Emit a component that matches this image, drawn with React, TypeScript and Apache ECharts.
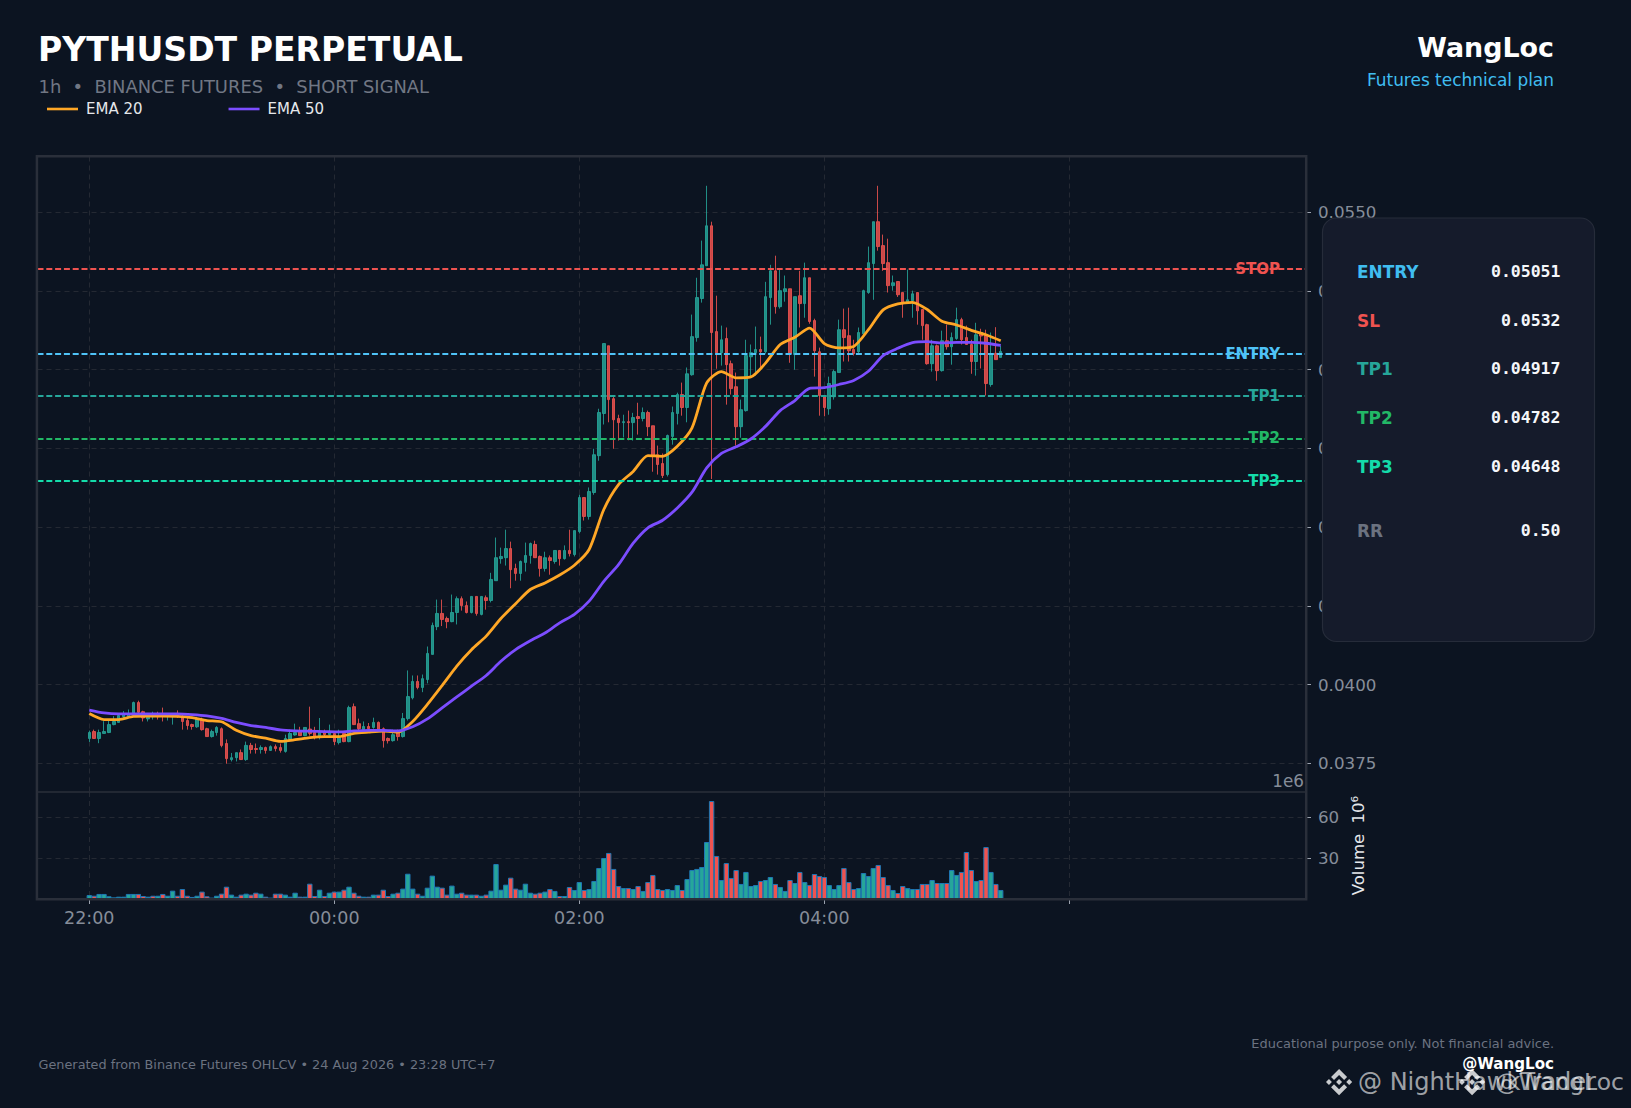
import React, { useEffect, useRef } from "react";
import * as echarts from "echarts";

// Candle values, price x 1e5 (one candle every 4.9px)
const opens = [
3829,3851,3829,3845,3848,3873,3880,3898,3898,3902,
3943,3914,3891,3898,3905,3907,3900,3898,3905,3898,
3886,3873,3866,3889,3860,3835,3848,3860,3813,3762,
3768,3784,3762,3807,3797,3794,3800,3791,3803,3800,
3788,3826,3840,3851,3838,3859,3848,3835,3848,3841,
3845,3816,3845,3819,3930,3876,3857,3867,3864,3880,
3860,3829,3822,3848,3835,3892,3958,4010,3991,4016,
4096,4184,4226,4210,4200,4229,4273,4251,4229,4280,
4223,4276,4267,4330,4400,4403,4432,4369,4353,4388,
4410,4445,4407,4369,4403,4391,4426,4400,4426,4413,
4486,4594,4534,4610,4727,4861,5076,4908,4845,4832,
4835,4832,4851,4845,4864,4822,4730,4702,4667,4788,
4861,4921,4880,4984,5102,5226,5330,5457,5121,5054,
5099,5019,4946,4819,4870,5041,5054,5064,5057,5229,
5314,5200,5248,5257,5048,5235,5210,5292,5156,5057,
4914,4876,4914,4991,5127,5108,5064,5057,5114,5245,
5337,5470,5394,5340,5267,5280,5245,5212,5219,5245,
5191,5143,5019,5076,4997,5092,5073,5099,5159,5102,
5080,5026,5118,5108,4953,5052,5039];
const closes = [
3848,3829,3848,3851,3873,3883,3902,3907,3905,3943,
3912,3894,3898,3905,3898,3900,3905,3902,3898,3883,
3870,3867,3891,3857,3835,3851,3864,3807,3765,3768,
3784,3762,3807,3794,3794,3800,3791,3803,3797,3791,
3829,3845,3848,3838,3864,3845,3835,3848,3841,3848,
3819,3832,3819,3927,3873,3860,3867,3860,3880,3857,
3822,3822,3841,3835,3892,3962,4010,3991,4019,4099,
4188,4226,4207,4200,4229,4273,4251,4229,4280,4226,
4280,4267,4334,4403,4407,4432,4365,4353,4391,4410,
4448,4403,4369,4403,4394,4426,4400,4426,4416,4489,
4594,4534,4613,4730,4864,5083,4905,4841,4832,4835,
4832,4848,4845,4864,4819,4727,4699,4664,4791,4864,
4921,4880,4987,5105,5229,5333,5457,5118,5054,5095,
5016,4940,4819,4873,5045,5054,5064,5057,5232,5314,
5200,5251,5257,5051,5232,5210,5292,5153,5060,4918,
4880,4956,4994,5127,5102,5060,5051,5118,5251,5340,
5470,5391,5337,5267,5276,5238,5213,5222,5241,5187,
5140,5019,5076,4997,5092,5073,5102,5159,5095,5080,
5026,5111,5107,4956,5051,5032,5058];
const lows = [
3818,3829,3814,3845,3846,3871,3880,3894,3898,3902,
3905,3883,3883,3889,3889,3883,3886,3873,3894,3857,
3857,3857,3863,3854,3835,3832,3838,3801,3749,3756,
3756,3761,3758,3781,3781,3781,3781,3790,3788,3784,
3784,3822,3838,3838,3836,3838,3826,3826,3836,3838,
3808,3810,3817,3817,3872,3854,3854,3855,3860,3857,
3800,3813,3819,3822,3832,3886,3953,3985,3976,4004,
4096,4173,4186,4179,4198,4191,4235,4226,4226,4219,
4220,4238,4261,4330,4384,4378,4306,4330,4330,4359,
4384,4403,4343,4359,4349,4384,4378,4397,4407,4407,
4480,4521,4524,4603,4711,4826,4833,4749,4775,4785,
4776,4775,4794,4836,4789,4676,4667,4656,4661,4762,
4826,4854,4833,4981,5089,5213,5330,4653,5003,5013,
4889,4921,4759,4784,4867,4979,4981,5000,5051,5143,
5178,5194,5216,5022,5000,5134,5165,5146,4978,4854,
4852,4857,4905,4991,5026,5026,5045,5051,5111,5241,
5222,5378,5314,5245,5251,5231,5165,5210,5165,5143,
5095,5016,4994,4965,4994,5064,5016,5095,5080,5080,
4987,4981,5004,4918,4946,5032,5039];
const highs = [
3854,3857,3857,3884,3889,3900,3905,3916,3921,3946,
3949,3917,3910,3914,3914,3927,3910,3910,3918,3905,
3894,3876,3898,3895,3863,3857,3868,3864,3826,3783,
3784,3794,3819,3815,3813,3807,3803,3807,3810,3813,
3841,3857,3876,3866,3864,3930,3866,3894,3857,3873,
3851,3857,3851,3933,3940,3892,3883,3878,3895,3883,
3864,3832,3857,3857,3910,4045,4029,4029,4032,4121,
4197,4270,4270,4216,4286,4280,4280,4264,4280,4280,
4280,4283,4355,4467,4435,4492,4454,4384,4394,4451,
4451,4457,4410,4422,4410,4426,4426,4442,4492,4489,
4603,4594,4626,4749,4876,5083,5076,4914,4857,4857,
4870,4863,4895,4880,4870,4822,4759,4734,4794,4883,
4927,4959,5007,5175,5292,5410,5584,5470,5235,5140,
5134,5029,4991,4905,5095,5080,5137,5105,5279,5333,
5362,5321,5299,5257,5232,5314,5340,5292,5162,5070,
4918,4978,5000,5159,5194,5197,5095,5134,5254,5391,
5470,5584,5429,5416,5299,5280,5245,5318,5251,5245,
5191,5146,5095,5080,5124,5143,5118,5197,5165,5140,
5095,5149,5130,5127,5118,5135,5076];

// Volume in millions, and its colour letter (G / R), one per candle
const volumes = [
2.9,2.4,3.7,3.7,2.0,1.2,1.7,1.7,3.7,3.7,
3.7,2.2,1.7,2.4,2.4,3.7,2.4,6.1,2.4,7.3,
2.4,1.5,2.4,5.4,2.0,1.0,2.4,3.9,9.0,3.2,
1.7,3.2,3.9,3.2,4.6,3.9,1.7,1.0,3.9,3.9,
3.2,1.7,4.6,1.7,1.7,11.2,2.2,6.8,2.2,4.6,
5.4,5.4,6.8,9.0,4.6,2.4,1.7,1.7,3.2,3.2,
6.8,2.2,3.9,4.6,7.6,18.5,7.6,3.9,2.4,8.3,
17.1,9.0,8.3,3.2,9.8,3.9,4.6,3.2,3.2,3.2,
2.4,3.2,6.1,25.6,6.8,10.5,15.6,7.6,6.8,11.2,
4.6,3.9,4.6,5.4,7.3,5.9,2.2,2.2,8.8,6.6,
12.4,6.6,7.3,13.2,22.7,30.0,33.7,22.0,9.5,8.0,
8.0,7.3,9.5,5.9,12.4,17.6,7.3,6.6,7.3,6.6,
10.2,6.6,14.6,21.2,22.0,23.4,41.7,71.7,31.5,13.9,
26.3,15.4,21.2,11.0,19.8,9.5,10.2,13.2,13.9,16.1,
11.0,8.8,5.9,13.9,11.7,19.8,12.4,10.2,18.3,16.8,
16.1,10.2,7.3,10.2,22.7,12.4,7.3,8.0,19.0,16.8,
22.7,24.9,16.1,10.2,6.6,4.4,9.5,8.0,7.3,7.3,
11.0,11.0,13.9,11.7,11.7,11.7,21.2,17.6,19.8,34.4,
21.2,13.2,13.9,38.0,19.8,11.0,6.6];
const volumeDirections =
  "GRGGGGGGGG" + "RRGRGRGGRR" + "RRGRRGGRRG" + "GRGRRGRGRR" + "GGGRGRRGRG" +
  "RGRGRRGRGR" + "RRGRGGGRGG" + "GGRRGGRRGR" + "GRGGGGRRGG" + "GRRGRGRGRG" +
  "GRGGGGRRRG" + "RGRGRRRRGG" + "GRGGGGGRRG" + "RRRGGGGRGG" + "RGGRGRGRRR" +
  "RGGGRRRGGG" + "GRRRGRRGGR" + "RRGRGRGGRR" + "RGRRGRG";

// EMA values, price x 1e5, read at every third candle
const ema20 = [
3908,3889,3889,3899,3900,3900,3899,3895,3886,3882,3855,3838,3830,3820,3825,3832,3835,3835,3845,3849,3852,3849,3883,
3937,3997,4059,4111,4154,4210,4257,4302,4323,4348,4379,4429,4556,4635,
4677,4727,4725,4757,4815,4958,4994,4974,4977,5021,5080,5103,5132,5083,5069,5074,5127,5190,5209,5214,5191,5154,5142,5125,5111,5092];
const ema50 = [
3919,3910,3907,3907,3907,3907,3907,3905,3901,3893,3880,3870,3864,3856,3853,3852,3851,3850,3853,3855,3855,3853,3866,
3891,3926,3961,3995,4029,4074,4111,4139,4164,4196,4223,4265,4328,4381,4449,
4498,4522,4561,4611,4688,4734,4755,4780,4820,4870,4902,4941,4943,4953,4966,4995,5045,5068,5086,5089,5085,5087,5087,5084,5077];
const emaStep = 3;

const levelNames = ["STOP", "ENTRY", "TP1", "TP2", "TP3"];
const levelValues = [0.0532, 0.05051, 0.04917, 0.04782, 0.04648];
const levelColors = ["#ef5350", "#4fc3f7", "#26a69a", "#22b866", "#14dcaa"];

const priceTicks = [0.0375, 0.04, 0.0425, 0.045, 0.0475, 0.05, 0.0525, 0.055];
const volumeTicks = [30, 60];
const timeTicks = [0, 50, 100, 150, 200];
const timeLabels = ["22:00", "00:00", "02:00", "04:00", ""];

const cardLabels = ["ENTRY", "SL", "TP1", "TP2", "TP3", "RR"];
const cardValues = ["0.05051", "0.0532", "0.04917", "0.04782", "0.04648", "0.50"];
const cardColors = ["#40bdf0", "#ef5350", "#26a69a", "#22b866", "#14dcaa", "#6b7280"];
const cardRows = [271, 320, 368.5, 417.5, 466, 530.5];

const BG = "#0c1421";
const SANS = "'DejaVu Sans', sans-serif";
const MONO = "'DejaVu Sans Mono', monospace";
const SPINE = "#2a2f3a";
const GRIDLINE = "#242933";
const TICKTEXT = "#868d99";
const UP = "#26a69a";
const DOWN = "#ef5350";

const BINANCE =
  "M16.624 13.9202l2.7175 2.7154-7.353 7.353-7.353-7.352 2.7175-2.7164 4.6355 4.6595 4.6356-4.6595zm4.6366-4.6366L24 12l-2.7154 2.7164L18.5682 12l2.6924-2.7164zm-9.272.001l2.7163 2.6914-2.7164 2.7174v-.001L9.2721 12l2.7164-2.7154zm-9.2722-.001L5.4088 12l-2.6914 2.6924L0 12l2.7164-2.7164zM11.9885.0115l7.353 7.329-2.7174 2.7154-4.6356-4.6356-4.6355 4.6595-2.7174-2.7154 7.353-7.353z";

function text(x: number, y: number, t: string, size: number, fill: string, extra: any = {}, z = 10) {
  return {
    type: "text",
    x,
    y,
    z,
    style: {
      text: t,
      fontSize: size,
      fontFamily: SANS,
      fill,
      textVerticalAlign: "middle",
      verticalAlign: "middle",
      ...extra,
    },
  };
}

export default function App() {
  const ref = useRef<HTMLDivElement>(null);

  useEffect(() => {
    document.body.style.margin = "0";
    document.body.style.background = BG;
    echarts.graphic.registerShape("binance", echarts.graphic.extendPath(BINANCE, {}) as any);
    const chart = echarts.init(ref.current!, undefined, { renderer: "svg" });

    const candles = opens.map((o, i) => [i, o / 1e5, closes[i] / 1e5, lows[i] / 1e5, highs[i] / 1e5]);
    const ema20Data = ema20.map((v, k) => [k * emaStep, v / 1e5]);
    const ema50Data = ema50.map((v, k) => [k * emaStep, v / 1e5]);
    const volumeData = volumes.map((v, i) => ({
      value: [i, v],
      itemStyle: { color: volumeDirections[i] === "G" ? UP : DOWN },
    }));
    const xMin = -10.57;
    const xMax = 248.3;
    const splitStyle = { type: [5, 4], color: GRIDLINE, width: 1 };
    const tickStyle = { color: "#9ca3af", width: 1 };

    const graphicElements: any[] = [
      { type: "rect", z: 50, shape: { x: 36.9, y: 156.2, width: 1269.3, height: 743 }, style: { fill: "none", stroke: SPINE, lineWidth: 2.5 } },
      { type: "line", z: 50, shape: { x1: 37, y1: 792, x2: 1306, y2: 792 }, style: { stroke: SPINE, lineWidth: 1.5 } },
      text(38, 49, "PYTHUSDT PERPETUAL", 33.1, "#ffffff", { fontWeight: "bold" }),
      text(38.5, 86, "1h  •  BINANCE FUTURES  •  SHORT SIGNAL", 17.9, "#717784"),
      text(1554, 47, "WangLoc", 26.9, "#ffffff", { fontWeight: "bold", textAlign: "right", align: "right" }),
      text(1554, 80, "Futures technical plan", 16.95, "#40bdf0", { textAlign: "right", align: "right" }),
      text(1304, 781, "1e6", 16.8, TICKTEXT, { textAlign: "right", align: "right" }),
      text(38.5, 1064, "Generated from Binance Futures OHLCV • 24 Aug 2026 • 23:28 UTC+7", 12.84, "#6b7280"),
      text(1554, 1043, "Educational purpose only. Not financial advice.", 12.95, "#6b7280", { textAlign: "right", align: "right" }),
      text(1554, 1064, "@WangLoc", 15.1, "#ffffff", { fontWeight: "bold", textAlign: "right", align: "right" }),
      { type: "binance", z: 9, x: 1326, y: 1069, scaleX: 1.09, scaleY: 1.09, style: { fill: "rgba(255,255,255,0.78)" } },
      text(1358, 1082, "@ NightHawkTrader", 24, "rgba(255,255,255,0.62)"),
      { type: "binance", z: 9, x: 1459, y: 1069, scaleX: 1.09, scaleY: 1.09, style: { fill: "rgba(255,255,255,0.78)" } },
      text(1495, 1082, "@WangLoc", 23.4, "rgba(255,255,255,0.62)"),
      { type: "rect", z: 100, shape: { x: 1322.5, y: 218, width: 272, height: 423.5, r: 14 }, style: { fill: "#151b2b", stroke: "#262c3a", lineWidth: 1.2 } },
    ];
    cardLabels.forEach((l, i) => {
      graphicElements.push(text(1357, cardRows[i] + 0.6, l, 16.9, cardColors[i], { fontWeight: "bold" }, 101));
      graphicElements.push(text(1560.5, cardRows[i], cardValues[i], 16.5, "#f5f7fa", { fontWeight: "bold", fontFamily: MONO, textAlign: "right", align: "right" }, 101));
    });

    chart.setOption({
      animation: false,
      backgroundColor: BG,
      textStyle: { fontFamily: SANS },
      legend: {
        left: 47,
        top: 101.5,
        padding: 0,
        icon: "rect",
        itemWidth: 31,
        itemHeight: 2.6,
        itemGap: 86,
        data: ["EMA 20", "EMA 50"],
        selectedMode: false,
        textStyle: { color: "#e5e7eb", fontSize: 15, fontFamily: SANS, padding: [0, 0, 0, 3] },
      },
      grid: [
        { left: 37.5, top: 156.5, width: 1268.5, height: 635.5 },
        { left: 37.5, top: 792, width: 1268.5, height: 107 },
      ],
      xAxis: [
        {
          type: "value", gridIndex: 0, min: xMin, max: xMax,
          axisLine: { show: false, onZero: false }, axisTick: { show: false }, axisLabel: { show: false },
          splitLine: { show: true, lineStyle: splitStyle, customValues: timeTicks },
        },
        {
          type: "value", gridIndex: 1, min: xMin, max: xMax,
          axisLine: { show: false, onZero: false },
          axisTick: { show: true, length: 5, lineStyle: tickStyle, customValues: timeTicks },
          axisLabel: {
            show: true, customValues: timeTicks, color: TICKTEXT, fontSize: 17.5, fontFamily: SANS, margin: 10,
            formatter: (v: number) => timeLabels[timeTicks.indexOf(v)] ?? "",
          },
          splitLine: { show: true, lineStyle: splitStyle, customValues: timeTicks },
        },
      ],
      yAxis: [
        {
          type: "value", gridIndex: 0, position: "right", min: 0.03659, max: 0.05677,
          axisLine: { show: false, onZero: false },
          axisTick: { show: true, length: 5, lineStyle: tickStyle, customValues: priceTicks },
          axisLabel: {
            show: true, customValues: priceTicks, color: TICKTEXT, fontSize: 16.7, fontFamily: SANS, margin: 12,
            formatter: (v: number) => v.toFixed(4),
          },
          splitLine: { show: true, lineStyle: splitStyle, customValues: priceTicks },
        },
        {
          type: "value", gridIndex: 1, position: "right", min: 0, max: 78.3,
          name: "Volume  10⁶", nameLocation: "middle", nameGap: 39, nameRotate: 90,
          nameTextStyle: { color: "#e5e7eb", fontSize: 16.5, fontFamily: SANS },
          axisLine: { show: false, onZero: false },
          axisTick: { show: true, length: 5, lineStyle: tickStyle, customValues: volumeTicks },
          axisLabel: {
            show: true, customValues: volumeTicks, color: TICKTEXT, fontSize: 16.7, fontFamily: SANS, margin: 12,
            formatter: (v: number) => String(v),
          },
          splitLine: { show: true, lineStyle: splitStyle, customValues: volumeTicks },
        },
      ],
      series: [
        {
          type: "candlestick", xAxisIndex: 0, yAxisIndex: 0, data: candles, barWidth: 3, z: 2,
          itemStyle: { color: UP, color0: DOWN, borderColor: UP, borderColor0: DOWN, borderWidth: 1, opacity: 0.84 },
        },
        {
          type: "line", xAxisIndex: 0, yAxisIndex: 0, data: [], silent: true, z: 3,
          markLine: {
            silent: true, symbol: "none", animation: false, precision: 5,
            data: levelValues.map((v, i) => ({
              yAxis: v,
              lineStyle: { color: levelColors[i], type: [6, 2.8], width: 2 },
              label: {
                show: true, position: "insideEnd", distance: [26, 0], formatter: levelNames[i],
                color: levelColors[i], fontSize: 15, fontWeight: "bold", fontFamily: SANS, padding: [0, 0, 3, 0],
              },
            })),
          },
        },
        {
          name: "EMA 20", type: "line", xAxisIndex: 0, yAxisIndex: 0, data: ema20Data, showSymbol: false, z: 4, smooth: 0.25,
          lineStyle: { color: "#ffa726", width: 2.8 }, itemStyle: { color: "#ffa726" },
        },
        {
          name: "EMA 50", type: "line", xAxisIndex: 0, yAxisIndex: 0, data: ema50Data, showSymbol: false, z: 5, smooth: 0.25,
          lineStyle: { color: "#7c4dff", width: 2.8 }, itemStyle: { color: "#7c4dff" },
        },
        {
          type: "bar", xAxisIndex: 1, yAxisIndex: 1, data: volumeData, barWidth: 5.4, z: 2,
          itemStyle: { borderColor: "#1f77b4", borderWidth: 1 },
        },
      ],
      graphic: { elements: graphicElements },
    });

    return () => chart.dispose();
  }, []);

  return <div ref={ref} style={{ width: 1631, height: 1108 }} />;
}
